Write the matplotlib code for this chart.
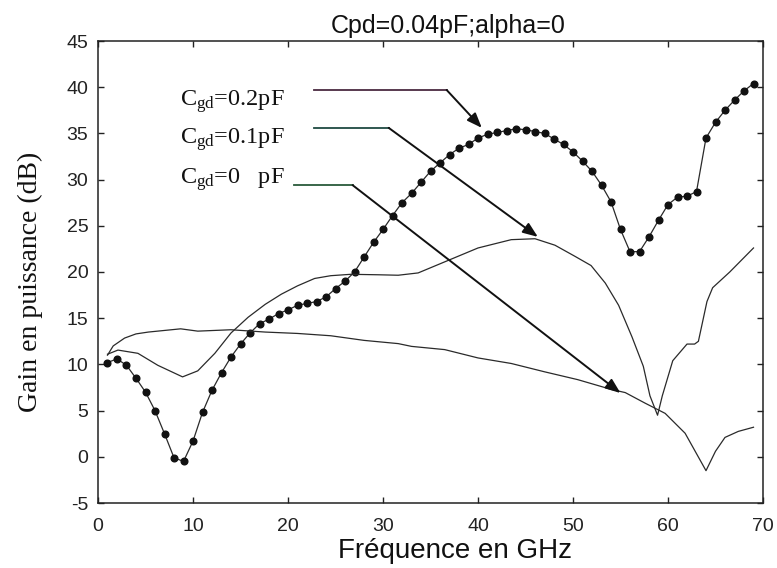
import numpy as np
import matplotlib.pyplot as plt

# Cgd = 0.2 pF (points every 1 GHz, joined by a line)
freq_02 = np.arange(1, 70)
gain_02 = [10.2, 10.6, 9.9, 8.5, 7.0, 5.0, 2.5, -0.1, -0.5, 1.7,
           4.8, 7.2, 9.1, 10.8, 12.2, 13.4, 14.4, 14.9, 15.5, 15.9,
           16.4, 16.6, 16.8, 17.3, 18.2, 19.0, 20.0, 21.6, 23.2, 24.6,
           26.1, 27.5, 28.5, 29.7, 30.9, 31.8, 32.7, 33.4, 33.8, 34.5,
           34.9, 35.1, 35.3, 35.5, 35.4, 35.2, 35.0, 34.4, 33.8, 33.0,
           32.0, 30.9, 29.4, 27.6, 24.6, 22.2, 22.2, 23.8, 25.6, 27.3,
           28.1, 28.2, 28.7, 34.5, 36.2, 37.5, 38.6, 39.6, 40.4]

# Cgd = 0.1 pF
freq_01 = [1.0, 2.1, 4.2, 6.3, 8.9, 10.5, 12.3, 14.0, 15.8, 17.6, 19.3, 21.0,
           22.8, 24.5, 26.6, 29.5, 31.6, 33.7, 36.5, 40.0, 43.5, 46.0, 48.1,
           50.2, 51.9, 53.4, 54.8, 56.2, 57.4, 58.1, 58.9, 59.4, 60.5, 62.0,
           62.8, 63.2, 64.1, 64.7, 66.5, 69.0]
gain_01 = [11.1, 11.55, 11.2, 9.9, 8.65, 9.3, 11.2, 13.4, 15.1, 16.5, 17.6, 18.5,
           19.3, 19.6, 19.75, 19.7, 19.65, 19.9, 21.1, 22.6, 23.5, 23.6, 22.9,
           21.7, 20.7, 18.8, 16.4, 13.0, 9.8, 6.6, 4.5, 6.6, 10.4, 12.2,
           12.2, 12.5, 16.8, 18.3, 20.0, 22.6]

# Cgd = 0 pF
freq_00 = [1.0, 1.6, 2.8, 4.0, 5.3, 8.7, 10.5, 14.0, 17.6, 21.0, 24.5, 28.0,
           31.6, 33.0, 36.5, 40.0, 43.5, 47.0, 50.5, 54.0, 55.5, 57.6, 59.7,
           61.8, 64.0, 65.0, 66.0, 67.4, 69.0]
gain_00 = [11.0, 12.0, 12.85, 13.3, 13.5, 13.85, 13.6, 13.75, 13.5, 13.35, 13.1, 12.6,
           12.25, 11.95, 11.6, 10.7, 10.1, 9.2, 8.35, 7.3, 6.95, 5.8, 4.7,
           2.55, -1.5, 0.6, 2.1, 2.75, 3.2]

labels = [r'C$_{\mathrm{gd}}$=0.2pF', r'C$_{\mathrm{gd}}$=0.1pF', r'C$_{\mathrm{gd}}$=0   pF']
label_y = [38.0, 33.9, 29.6]
# horizontal leader start, corner, arrow tip (data coords)
leader_start = [(22.7, 39.7), (22.7, 35.6), (20.6, 29.4)]
leader_corner = [(36.7, 39.7), (30.6, 35.6), (26.8, 29.4)]
arrow_tip = [(40.4, 35.6), (46.3, 23.8), (55.0, 6.9)]
leader_colors = ['#4a2a40', '#1f4a42', '#2a5a3a']

plt.rcParams['mathtext.fontset'] = 'custom'
plt.rcParams['mathtext.rm'] = 'Liberation Serif'
plt.rcParams['mathtext.it'] = 'Liberation Serif:italic'
plt.rcParams['axes.unicode_minus'] = False

fig = plt.figure(figsize=(7.77, 5.68), dpi=100)
ax = fig.add_axes([98 / 777, 1 - 503 / 568, 665 / 777, 462 / 568])

line_c = '#2a2a2a'
ax.plot(freq_02, gain_02, color=line_c, lw=0.9, marker='o', ms=4.8,
        mfc='#111111', mec='#111111')
ax.plot(freq_01, gain_01, color=line_c, lw=0.9)
ax.plot(freq_00, gain_00, color=line_c, lw=0.9)

for lab, ly, s, c, t, lc in zip(labels, label_y, leader_start, leader_corner,
                                 arrow_tip, leader_colors):
    ax.text(8.6, ly, lab, fontsize=17.5, family='Liberation Serif',
            ha='left', va='baseline', color='#111111')
    ax.plot([s[0], c[0]], [s[1], c[1]], color=lc, lw=1.3, zorder=4)
    ax.annotate('', xy=t, xytext=c,
                arrowprops=dict(arrowstyle='-|>,head_length=0.9,head_width=0.35',
                                lw=1.4, color='#111111', shrinkA=0, shrinkB=0),
                zorder=5)

ax.set_xlim(0, 70)
ax.set_ylim(-5, 45)
ax.set_xticks(np.arange(0, 71, 10))
ax.set_yticks(np.arange(-5, 46, 5))
ax.tick_params(direction='in', top=True, right=True, length=4, width=1,
               labelsize=14, colors='#222222')
ax.tick_params(axis='x', pad=11)
ax.tick_params(axis='y', pad=7)
for lbl in ax.get_xticklabels() + ax.get_yticklabels():
    lbl.set_family('Liberation Sans')
for sp in ax.spines.values():
    sp.set_linewidth(1.1)
    sp.set_color('#222222')

fig.text(448 / 777, 1 - 33 / 568, 'Cpd=0.04pF;alpha=0', ha='center', va='baseline',
         fontsize=18, family='Liberation Sans', color='#111111')
fig.text(455 / 777, 1 - 558 / 568, 'Fréquence en GHz', ha='center', va='baseline',
         fontsize=20, family='Liberation Sans', color='#111111')
fig.text(30 / 777, 1 - 282 / 568, 'Gain en puissance (dB)', ha='center', va='center',
         rotation=90, fontsize=20, family='Liberation Serif', color='#111111')

fig.savefig('out.png', dpi=100)
